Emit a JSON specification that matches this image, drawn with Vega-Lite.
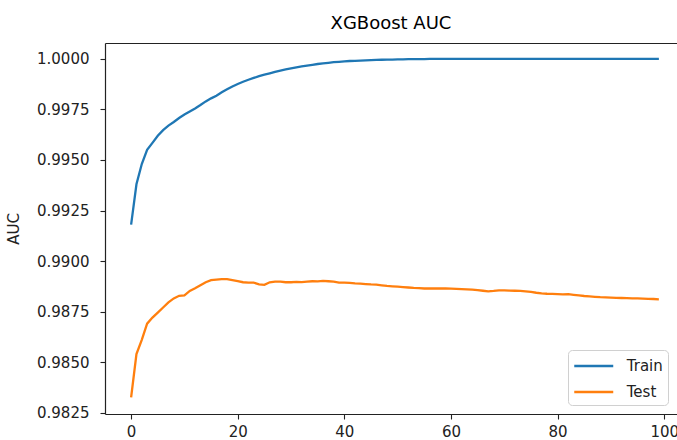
{
  "$schema": "https://vega.github.io/schema/vega-lite/v6.json",
  "autosize": "none",
  "width": 572,
  "height": 371,
  "padding": {"left": 105, "top": 43, "right": 0, "bottom": 26},
  "background": "white",
  "title": {"text": "XGBoost AUC", "font": "DejaVu Sans", "fontSize": 18, "fontWeight": "normal", "color": "#000", "offset": -4, "baseline": "alphabetic", "anchor": "middle", "frame": "group"},
  "data": {"values": [
    {"i":0,"Train":0.9918,"Test":0.98325},{"i":1,"Train":0.9938,"Test":0.9854},{"i":2,"Train":0.9948,"Test":0.9861},{"i":3,"Train":0.9955,"Test":0.9869},{"i":4,"Train":0.99585,"Test":0.9872},
    {"i":5,"Train":0.9962,"Test":0.98745},{"i":6,"Train":0.99648,"Test":0.9877},{"i":7,"Train":0.9967,"Test":0.98795},{"i":8,"Train":0.99688,"Test":0.98815},{"i":9,"Train":0.99708,"Test":0.98828},
    {"i":10,"Train":0.99725,"Test":0.9883},{"i":11,"Train":0.9974,"Test":0.98852},{"i":12,"Train":0.99755,"Test":0.98865},{"i":13,"Train":0.99772,"Test":0.9888},{"i":14,"Train":0.9979,"Test":0.98895},
    {"i":15,"Train":0.99805,"Test":0.98905},{"i":16,"Train":0.99818,"Test":0.98908},{"i":17,"Train":0.99835,"Test":0.9891},{"i":18,"Train":0.9985,"Test":0.9891},{"i":19,"Train":0.99864,"Test":0.98905},
    {"i":20,"Train":0.99876,"Test":0.989},{"i":21,"Train":0.99887,"Test":0.98895},{"i":22,"Train":0.99897,"Test":0.98893},{"i":23,"Train":0.99906,"Test":0.98893},{"i":24,"Train":0.99915,"Test":0.98885},
    {"i":25,"Train":0.99922,"Test":0.98882},{"i":26,"Train":0.99929,"Test":0.98895},{"i":27,"Train":0.99936,"Test":0.98898},{"i":28,"Train":0.99942,"Test":0.98898},{"i":29,"Train":0.99948,"Test":0.98895},
    {"i":30,"Train":0.99953,"Test":0.98895},{"i":31,"Train":0.99958,"Test":0.98897},{"i":32,"Train":0.99963,"Test":0.98896},{"i":33,"Train":0.99967,"Test":0.98898},{"i":34,"Train":0.99971,"Test":0.989},
    {"i":35,"Train":0.99975,"Test":0.98899},{"i":36,"Train":0.99978,"Test":0.98902},{"i":37,"Train":0.99981,"Test":0.989},{"i":38,"Train":0.99984,"Test":0.98898},{"i":39,"Train":0.99986,"Test":0.98893},
    {"i":40,"Train":0.99988,"Test":0.98893},{"i":41,"Train":0.9999,"Test":0.98892},{"i":42,"Train":0.99991,"Test":0.98889},{"i":43,"Train":0.99992,"Test":0.98888},{"i":44,"Train":0.99993,"Test":0.98886},
    {"i":45,"Train":0.99994,"Test":0.98884},{"i":46,"Train":0.99995,"Test":0.98883},{"i":47,"Train":0.99996,"Test":0.9888},{"i":48,"Train":0.99997,"Test":0.98877},{"i":49,"Train":0.99997,"Test":0.98875},
    {"i":50,"Train":0.99998,"Test":0.98873},{"i":51,"Train":0.99998,"Test":0.98871},{"i":52,"Train":0.99999,"Test":0.98869},{"i":53,"Train":0.99999,"Test":0.98867},{"i":54,"Train":0.99999,"Test":0.98866},
    {"i":55,"Train":0.99999,"Test":0.98864},{"i":56,"Train":1.0,"Test":0.98864},{"i":57,"Train":1.0,"Test":0.98865},{"i":58,"Train":1.0,"Test":0.98864},{"i":59,"Train":1.0,"Test":0.98864},
    {"i":60,"Train":1.0,"Test":0.98863},{"i":61,"Train":1.0,"Test":0.98862},{"i":62,"Train":1.0,"Test":0.98861},{"i":63,"Train":1.0,"Test":0.9886},{"i":64,"Train":1.0,"Test":0.98859},
    {"i":65,"Train":1.0,"Test":0.98856},{"i":66,"Train":1.0,"Test":0.98853},{"i":67,"Train":1.0,"Test":0.9885},{"i":68,"Train":1.0,"Test":0.98852},{"i":69,"Train":1.0,"Test":0.98855},
    {"i":70,"Train":1.0,"Test":0.98855},{"i":71,"Train":1.0,"Test":0.98854},{"i":72,"Train":1.0,"Test":0.98853},{"i":73,"Train":1.0,"Test":0.98852},{"i":74,"Train":1.0,"Test":0.9885},
    {"i":75,"Train":1.0,"Test":0.98847},{"i":76,"Train":1.0,"Test":0.98843},{"i":77,"Train":1.0,"Test":0.9884},{"i":78,"Train":1.0,"Test":0.98838},{"i":79,"Train":1.0,"Test":0.98837},
    {"i":80,"Train":1.0,"Test":0.98836},{"i":81,"Train":1.0,"Test":0.98835},{"i":82,"Train":1.0,"Test":0.98836},{"i":83,"Train":1.0,"Test":0.98833},{"i":84,"Train":1.0,"Test":0.9883},
    {"i":85,"Train":1.0,"Test":0.98827},{"i":86,"Train":1.0,"Test":0.98825},{"i":87,"Train":1.0,"Test":0.98823},{"i":88,"Train":1.0,"Test":0.98821},{"i":89,"Train":1.0,"Test":0.9882},
    {"i":90,"Train":1.0,"Test":0.98819},{"i":91,"Train":1.0,"Test":0.98818},{"i":92,"Train":1.0,"Test":0.98817},{"i":93,"Train":1.0,"Test":0.98816},{"i":94,"Train":1.0,"Test":0.98815},
    {"i":95,"Train":1.0,"Test":0.98815},{"i":96,"Train":1.0,"Test":0.98814},{"i":97,"Train":1.0,"Test":0.98813},{"i":98,"Train":1.0,"Test":0.98812},{"i":99,"Train":1.0,"Test":0.9881}
  ]},
  "transform": [{"fold": ["Train", "Test"], "as": ["series", "auc"]}],
  "config": {
    "view": {"stroke": null},
    "axis": {"domainColor": "#222", "domainWidth": 1.2, "tickColor": "#222", "tickWidth": 1.1, "tickSize": 5, "labelFont": "DejaVu Sans", "labelFontSize": 15, "labelColor": "#222", "grid": false, "labelFlush": false, "labelOverlap": false, "titleFont": "DejaVu Sans", "titleFontSize": 15, "titleFontWeight": "normal", "titleColor": "#222"}
  },
  "layer": [
    {
      "mark": {"type": "line", "strokeWidth": 2.3, "clip": true},
      "encoding": {
        "x": {"field": "i", "type": "quantitative", "scale": {"domain": [-4.9, 102.4], "nice": false, "zero": false},
              "axis": {"orient": "bottom", "values": [0, 20, 40, 60, 80, 100], "title": null, "labelPadding": 5}},
        "y": {"field": "auc", "type": "quantitative", "scale": {"domain": [0.98243, 1.00079], "nice": false, "zero": false},
              "axis": {"values": [0.9825, 0.985, 0.9875, 0.99, 0.9925, 0.995, 0.9975, 1.0], "format": ".4f", "labelPadding": 11, "title": "AUC", "titleX": -86.5, "titleY": 185.5, "titleAngle": 270, "titleBaseline": "alphabetic", "titleAlign": "center"}},
        "color": {"field": "series", "type": "nominal", "sort": ["Train", "Test"],
                  "scale": {"domain": ["Train", "Test"], "range": ["#1f77b4", "#ff7f0e"]},
                  "legend": {"title": null, "orient": "none", "legendX": 463, "legendY": 307, "fillColor": "white", "strokeColor": "#d0d0d0", "cornerRadius": 4, "padding": 5, "symbolType": "M-2,0H2", "symbolSize": 380, "symbolOffset": 9.75, "symbolStrokeWidth": 2.3, "labelFont": "DejaVu Sans", "labelFontSize": 15, "labelColor": "#222", "labelOffset": 22, "rowPadding": 7}}
      }
    },
    {
      "mark": {"type": "point", "opacity": 0},
      "encoding": {
        "x": {"field": "i", "type": "quantitative", "axis": {"orient": "top", "labels": false, "ticks": false, "title": null, "domain": true}}
      }
    }
  ],
  "resolve": {"axis": {"x": "independent"}}
}
